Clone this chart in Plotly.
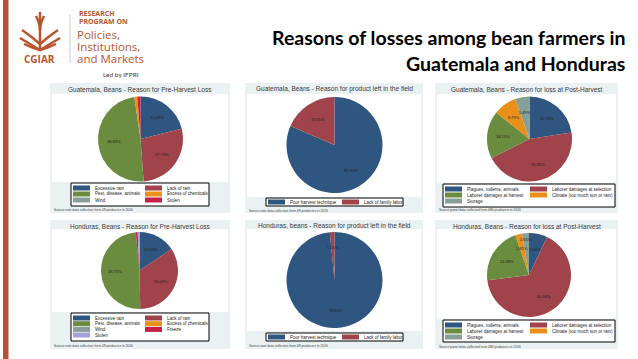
import math
import plotly.graph_objects as go

W, H = 638, 359

# ---------------- data ----------------
g_pre_labels = ["Excessive rain", "Lack of rain", "Pest, disease, animals",
                "Excess of chemicals", "Wind", "Stolen"]
g_pre_values = [21.09, 27.73, 48.83, 1.17, 0.0, 1.17]

h_pre_labels = ["Excessive rain", "Lack of rain", "Pest, disease, animals",
                "Excess of chemicals", "Wind", "Freeze", "Stolen"]
h_pre_values = [15.63, 34.06, 48.75, 0.0, 0.0, 0.78, 0.78]

left_labels = ["Poor harvest technique", "Lack of family labor"]
g_left_values = [81.45, 18.55]
h_left_values = [98.44, 1.56]

post_labels = ["Plagues, rodents, animals", "Laborer damages at selection",
               "Laborer damages at harvest", "Climate (too much sun or rain)", "Storage"]
g_post_values = [22.53, 45.05, 18.13, 8.79, 5.49]
h_post_values = [7.08, 65.93, 21.68, 2.65, 2.65]

panel_titles = [
    "Guatemala, Beans - Reason for Pre-Harvest Loss",
    "Guatemala, Beans - Reason for product left in the field",
    "Guatemala, Beans - Reason for loss at Post-Harvest",
    "Honduras, Beans - Reason for Pre-Harvest Loss",
    "Honduras, beans - Reason for product left in the field",
    "Honduras, Beans - Reason for loss at Post-Harvest",
]
sources = [
    "Source:own data collection from 48 producers in 2016",
    "Source:own data collection from 48 producers in 2016",
    "Source:panel data collected from 480 producers in 2016",
    "Source:own data collection from 48 producers in 2016",
    "Source:own data collection from 48 producers in 2016",
    "Source:panel data collected from 480 producers in 2016",
]

# ---------------- styles ----------------
NAVY, MAROON, GREEN, ORANGE, TEAL, CRAN, LAV = (
    "#2F5680", "#A0434B", "#6A8C3E", "#E8901A", "#86A098", "#C42047", "#A59FDC")
pre_colors_g = [NAVY, MAROON, GREEN, ORANGE, TEAL, CRAN]
pre_colors_h = [NAVY, MAROON, GREEN, ORANGE, TEAL, CRAN, LAV]
left_colors = [NAVY, MAROON]
post_colors = [NAVY, MAROON, GREEN, ORANGE, TEAL]

BG = "#EAF1F3"
RUST = "#B8552E"


def X(px):
    return px / W


def Y(py):
    return 1 - py / H


def text(x, y, s, size, color="#222", family="Liberation Sans", xanchor="center",
         weight="normal"):
    return dict(x=X(x), y=Y(y), xref="paper", yref="paper", xanchor=xanchor,
                yanchor="middle", text=s, showarrow=False,
                font=dict(size=size, color=color, family=family, weight=weight))


panels = [
    dict(labels=g_pre_labels, values=g_pre_values, colors=pre_colors_g,
         box=(50, 230, 83, 213), white=(52, 228, 94, 182), c=(140.5, 139), r=42.5,
         leg=(71, 209, 183, 206), cols=[73, 145], rows=[188, 194, 200], src_y=210,
         lrad={}),
    dict(labels=left_labels, values=g_left_values, colors=left_colors,
         box=(245, 423, 83, 213), white=(247, 421, 94, 197), c=(334.5, 145), r=48,
         leg=(266, 403, 198, 206), cols=[268, 342], rows=[202], src_y=211,
         lrad={}),
    dict(labels=post_labels, values=g_post_values, colors=post_colors,
         box=(435, 618, 83, 213), white=(437, 616, 94, 183), c=(529.5, 139), r=42.5,
         leg=(443, 615, 184, 207), cols=[445, 530], rows=[189, 195, 201], src_y=210,
         lrad={}),
    dict(labels=h_pre_labels, values=h_pre_values, colors=pre_colors_h,
         box=(50, 230, 220, 349), white=(52, 228, 229, 312), c=(139.5, 270.5), r=38.5,
         leg=(71, 209, 313, 341), cols=[73, 145], rows=[318, 323.7, 329.4, 335], src_y=346,
         lrad={}),
    dict(labels=left_labels, values=h_left_values, colors=left_colors,
         box=(245, 423, 220, 349), white=(247, 421, 229, 331), c=(334.5, 280), r=48,
         leg=(266, 403, 333, 341), cols=[268, 342], rows=[337], src_y=346,
         lrad={1: 0.67}),
    dict(labels=post_labels, values=h_post_values, colors=post_colors,
         box=(435, 618, 220, 349), white=(437, 616, 229, 319), c=(529, 275), r=42,
         leg=(443, 615, 320, 342), cols=[445, 530], rows=[325, 331, 337], src_y=347,
         lrad={4: 0.86, 3: 0.66}),
]

fig = go.Figure()
shapes = []
ann = []

# left rust bar
shapes.append(dict(type="rect", xref="paper", yref="paper", x0=X(3), x1=X(8.5),
                   y0=0, y1=1, fillcolor=RUST, line_width=0, layer="below"))

for i, p in enumerate(panels):
    x0, x1, y0, y1 = p["box"]
    shapes.append(dict(type="rect", xref="paper", yref="paper", x0=X(x0), x1=X(x1),
                       y0=Y(y1), y1=Y(y0), fillcolor=BG, line_width=0, layer="below"))
    wx0, wx1, wy0, wy1 = p["white"]
    shapes.append(dict(type="rect", xref="paper", yref="paper", x0=X(wx0), x1=X(wx1),
                       y0=Y(wy1), y1=Y(wy0), fillcolor="white", line_width=0, layer="below"))
    cx, cy = p["c"]
    r = p["r"]
    fig.add_trace(go.Pie(
        labels=p["labels"], values=p["values"], sort=False, direction="clockwise",
        rotation=0, marker=dict(colors=p["colors"], line=dict(width=0)),
        textinfo="none", hoverinfo="label+percent", showlegend=False,
        domain=dict(x=[X(cx - r), X(cx + r)], y=[Y(cy + r), Y(cy - r)]),
    ))
    # slice labels (Stata style, on the slice's mid angle)
    tot = sum(p["values"])
    acc = 0.0
    for k, v in enumerate(p["values"]):
        mid = (acc + v / 2) / tot * 2 * math.pi
        acc += v
        if v >= 1.5:
            f = p["lrad"].get(k, 0.63)
            lx = cx + f * r * math.sin(mid)
            ly = cy - f * r * math.cos(mid)
            ann.append(text(lx, ly, f"{v / tot * 100:.2f}%", 4, "#222"))
    # title
    ann.append(text((x0 + x1) / 2, y0 + 6, panel_titles[i], 6.5, "#3a3a3a"))
    # source
    ann.append(text(x0 + 2, p["src_y"], sources[i], 3.3, "#444", xanchor="left"))
    # legend box
    lx0, lx1, ly0, ly1 = p["leg"]
    shapes.append(dict(type="rect", xref="paper", yref="paper", x0=X(lx0), x1=X(lx1),
                       y0=Y(ly1), y1=Y(ly0), fillcolor="white",
                       line=dict(color="black", width=1)))
    ncol = len(p["cols"])
    for k, (lab, col) in enumerate(zip(p["labels"], p["colors"])):
        sx = p["cols"][k % ncol]
        sy = p["rows"][k // ncol]
        shapes.append(dict(type="rect", xref="paper", yref="paper", x0=X(sx), x1=X(sx + 17),
                           y0=Y(sy + 2.5), y1=Y(sy - 2.5), fillcolor=col, line_width=0))
        ann.append(text(sx + 20, sy, lab, 4.5, "#222", xanchor="left"))

# ---------------- slide title ----------------
ann.append(text(627, 38, "Reasons of losses among bean farmers in", 19.5, "black",
                family="Lato", xanchor="right", weight="bold"))
ann.append(text(627, 63, "Guatemala and Honduras", 19.5, "black",
                family="Lato", xanchor="right", weight="bold"))

# ---------------- logo ----------------
ann.append(text(77, 14, "<b>RESEARCH</b>", 7, RUST, family="Open Sans", xanchor="left"))
ann.append(text(77, 22, "<b>PROGRAM ON</b>", 7, RUST, family="Open Sans", xanchor="left"))
for txt, yy in [("Policies,", 34), ("Institutions,", 46.5), ("and Markets", 59)]:
    ann.append(text(75, yy, txt, 11.5, RUST, family="Open Sans", xanchor="left"))
ann.append(text(40, 59, "<b>CGIAR</b>", 10, RUST, family="Open Sans"))
ann.append(text(121, 75, "Led by IFPRI", 6.5, "#5a3320", family="Lato"))
shapes.append(dict(type="line", xref="paper", yref="paper", x0=X(70), x1=X(70),
                   y0=Y(63), y1=Y(14), line=dict(color="#cccccc", width=1)))
# crude wheat icon
icon_paths = [
    "M 40 12 L 40 50",
    "M 22 30 Q 31 36 40 44 Q 49 36 58 30",
    "M 20 38 Q 30 44 40 50 Q 50 44 60 38",
    "M 24 44 Q 32 48 40 50 Q 48 48 56 44",
    "M 36 16 Q 40 24 40 30 M 44 16 Q 40 24 40 30",
]
for pth in icon_paths:
    toks = pth.split()
    out = []
    j = 0
    while j < len(toks):
        t = toks[j]
        if t in ("M", "L", "Q"):
            out.append(t)
            j += 1
        else:
            xv = float(toks[j]); yv = float(toks[j + 1])
            out.append(f"{X(xv):.5f},{Y(yv):.5f}")
            j += 2
    shapes.append(dict(type="path", xref="paper", yref="paper", path=" ".join(out),
                       line=dict(color=RUST, width=2.5)))

fig.update_layout(
    width=W, height=H, margin=dict(l=0, r=0, t=0, b=0),
    paper_bgcolor="white", plot_bgcolor="white",
    shapes=shapes, annotations=ann, showlegend=False,
)
fig.write_html("out.html", config={"displayModeBar": False},
               post_script="document.body.style.margin='0';document.body.style.overflow='hidden';")
